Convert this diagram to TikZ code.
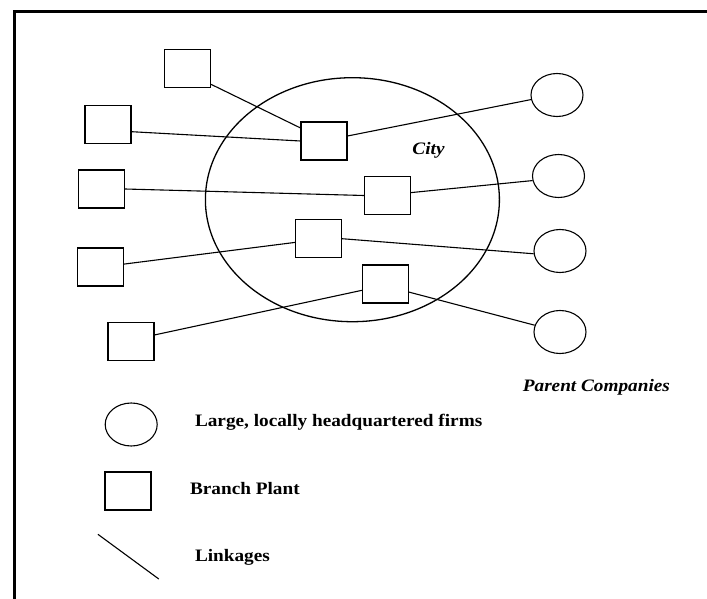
\documentclass[tikz,border=0pt]{standalone}
\usepackage{fontspec}
\setmainfont{Liberation Serif}
\newfontfamily\labelfont[FakeStretch=1.1]{Liberation Serif}
\usetikzlibrary{shapes.geometric}
\begin{document}
\begin{tikzpicture}[x=1pt,y=-1pt,
  plant/.style={draw, line width=1.1pt, rectangle, minimum width=46pt, minimum height=38pt, inner sep=0pt},
  firm/.style={draw, line width=1.1pt, ellipse, minimum width=52pt, minimum height=43pt, inner sep=0pt},
  city/.style={draw, line width=1.3pt, ellipse, minimum width=294pt, minimum height=244pt, inner sep=0pt},
  link/.style={line width=1.1pt},
  legendtext/.style={anchor=base west, inner sep=0pt, font=\labelfont\fontsize{17.5}{20}\selectfont\bfseries},
  itallabel/.style={anchor=base, inner sep=0pt, font=\labelfont\fontsize{17.5}{20}\selectfont\bfseries\itshape}]
\useasboundingbox (0,0) rectangle (707,599);
\fill[white] (0,0) rectangle (707,599);
% frame (top and left edges)
\draw[line width=3pt] (14,599) -- (14,11.7) -- (707,11.7);

% city
\node[city] (city) at (352.4,199.7) {};
\node[itallabel] (citylabel) at (428.5,154.3) {City};

% branch plants outside the city
\node[plant] (s1) at (187.6,68.5) {};
\node[plant] (s2) at (108,124.5) {};
\node[plant] (s3) at (101.5,189) {};
\node[plant] (s4) at (100.3,267) {};
\node[plant] (s5) at (131,341.7) {};

% branch plants inside the city
\node[plant] (c1) at (324,141) {};
\node[plant] (c2) at (387.4,195.5) {};
\node[plant] (c3) at (318.4,238.7) {};
\node[plant] (c4) at (385.5,284) {};

% parent companies
\node[firm] (p1) at (557,95) {};
\node[firm] (p2) at (558.5,176) {};
\node[firm] (p3) at (560,251) {};
\node[firm] (p4) at (560,332) {};
\node[itallabel] (parentlabel) at (596.4,391) {Parent Companies};

% linkages
\draw[link] (s1.-34) -- (c1.151);
\draw[link] (s2.-17) -- (c1.west);
\draw[link] (c1.12) -- (p1.190);
\draw[link] (s3.east) -- (c2.west);
\draw[link] (c2.7) -- (p2.190);
\draw[link] (s4.7) -- (c3.189);
\draw[link] (c3.east) -- (p3.186);
\draw[link] (s5.16) -- (c4.195);
\draw[link] (c4.-19) -- (p4.165);

% legend
\node[firm] (kfirm) at (131.2,424.5) {};
\node[legendtext] (kfirmtext) at (194.8,426.7) {Large, locally headquartered firms};
\node[plant] (kplant) at (128,491) {};
\node[legendtext] (kplanttext) at (189.9,494.3) {Branch Plant};
\coordinate (klinka) at (97.9,534.3);
\coordinate (klinkb) at (158.8,579);
\draw[link] (klinka) -- (klinkb);
\node[legendtext] (klinktext) at (194.8,561) {Linkages};
\end{tikzpicture}
\end{document}
